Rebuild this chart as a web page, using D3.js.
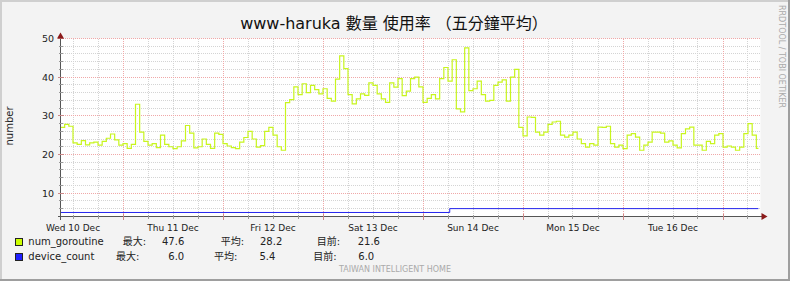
<!DOCTYPE html>
<html>
<head>
<meta charset="utf-8">
<script src="https://cdn.jsdelivr.net/npm/d3@7"></script>
<style>
  body { margin: 0; background: #f3f3f3; }
  svg { display: block; }
  text { font-family: "DejaVu Sans", "Noto Sans CJK TC", sans-serif; }
</style>
</head>
<body>
<svg id="chart" width="790" height="281"></svg>
<script>
const chartTitle = 'www-haruka 數量 使用率 （五分鐘平均）';
const yLabel = 'number';
const viewStart = '2025-12-09T21:00';
const viewEnd = '2025-12-16T21:00';

// num_goroutine, one reading per hour from viewStart
const goroutineValues = [
  27.0, 27.8, 27.3, 23.0, 22.6, 23.6, 22.5, 23.0, 23.2, 22.4, 23.4, 24.2, 25.3, 23.8, 22.4, 22.8,
  21.6, 22.6, 33.0, 25.8, 23.4, 22.4, 22.8, 21.8, 25.0, 22.6, 22.0, 21.5, 22.0,
  23.5, 27.5, 25.5, 21.7, 22.0, 24.0, 22.6, 21.6, 25.5, 25.2, 22.8, 22.2, 21.8, 21.5, 23.2, 24.4,
  26.0, 24.0, 21.9, 22.3, 26.0, 27.0, 25.0, 22.0, 21.1, 33.4, 34.2, 37.5,
  35.5, 38.3, 36.0, 37.9, 36.8, 35.7, 37.0, 34.5, 33.8, 39.5, 45.5, 42.2, 35.5, 33.1, 34.4, 35.7,
  35.3, 38.5, 37.9, 35.7, 34.4, 33.5, 38.5, 37.4, 39.6, 35.2, 36.4, 39.6,
  40.0, 37.5, 33.5, 34.5, 35.5, 34.4, 39.6, 42.5, 39.0, 44.5, 31.8, 31.0, 47.6, 36.5, 37.0, 39.0,
  35.5, 33.8, 34.0, 37.9, 38.7, 39.3, 33.8, 40.0, 42.0, 27.0, 24.8, 29.7, 29.6,
  25.8, 25.0, 25.8, 27.8, 28.4, 28.6, 25.0, 24.5, 25.0, 25.8, 24.0, 22.8, 21.9, 22.8, 22.4, 27.1,
  27.0, 27.3, 22.8, 21.9, 22.4, 21.5, 25.0, 25.4, 24.5, 21.1, 22.4, 23.2,
  25.8, 25.8, 25.5, 23.2, 23.5, 22.4, 21.7, 25.4, 26.6, 27.1, 22.4, 22.4, 21.1, 23.4, 22.8, 25.0,
  25.4, 21.9, 22.2, 21.9, 21.1, 21.9, 25.4, 28.0, 25.0, 21.6
];
const goroutineEnd = '2025-12-16T20:30';

const deviceTimes = ['2025-12-09T21:00', '2025-12-13T18:25', '2025-12-16T20:30'];
const deviceValues = [5, 6, 6];

const yTicks = [10, 20, 30, 40, 50];
const legendNames = ['num_goroutine', 'device_count'];
const legendColors = ['#ccff00', '#2020ff'];
const legendMax = ['47.6', '6.0'];
const legendAvg = ['28.2', '5.4'];
const legendNow = ['21.6', '6.0'];

(() => {
  const parse = d3.timeParse('%Y-%m-%dT%H:%M');
  const t0 = parse(viewStart);
  const t1 = parse(viewEnd);
  const goroutine = goroutineValues.map((v, i) => ({ t: d3.timeHour.offset(t0, i), v }));
  goroutine.push({ t: parse(goroutineEnd), v: goroutineValues[goroutineValues.length - 1] });
  const device = deviceTimes.map((t, i) => ({ t: parse(t), v: deviceValues[i] }));

  const svg = d3.select('#chart');
  const W = 790, H = 281;
  const pLeft = 60.5, pRight = 760.5, pTop = 38.5, pBottom = 216.5;

  const x = d3.scaleTime().domain([t0, t1]).range([pLeft, pRight]);
  const y = d3.scaleLinear().domain([3.96, 50]).range([pBottom, pTop]);
  const px = v => Math.round(v - 0.5) + 0.5;

  // frame
  svg.append('rect').attr('width', W).attr('height', H).attr('fill', '#f3f3f3');
  svg.append('path').attr('d', `M1,${H} V1 H${W}`).attr('stroke', '#cfcfcf').attr('stroke-width', 2).attr('fill', 'none');
  svg.append('path').attr('d', `M0,${H - 1} H${W - 1} V0`).attr('stroke', '#9e9e9e').attr('stroke-width', 2).attr('fill', 'none');
  svg.append('rect').attr('x', pLeft).attr('y', pTop).attr('width', pRight - pLeft).attr('height', pBottom - pTop).attr('fill', '#fff');

  const grid = svg.append('g').attr('shape-rendering', 'crispEdges').attr('stroke-dasharray', '1,1');
  const minorY = d3.range(6, 50, 2).filter(v => v % 10 !== 0);
  const hours6 = d3.timeHour.every(6).range(t0, t1).filter(d => d > t0);
  const minorX = hours6.filter(d => d.getHours() !== 12);
  const noons = hours6.filter(d => d.getHours() === 12);

  grid.selectAll('.my').data(minorY).join('line')
    .attr('x1', pLeft).attr('x2', pRight).attr('y1', d => px(y(d))).attr('y2', d => px(y(d)))
    .attr('stroke', '#d4d4d4');
  grid.selectAll('.mx').data(minorX).join('line')
    .attr('y1', pTop).attr('y2', pBottom).attr('x1', d => px(x(d))).attr('x2', d => px(x(d)))
    .attr('stroke', '#d4d4d4');
  grid.selectAll('.My').data(yTicks).join('line')
    .attr('x1', pLeft).attr('x2', pRight).attr('y1', d => px(y(d))).attr('y2', d => px(y(d)))
    .attr('stroke', '#f0a8a8');
  grid.selectAll('.Mx').data(noons).join('line')
    .attr('y1', pTop).attr('y2', pBottom).attr('x1', d => px(x(d))).attr('x2', d => px(x(d)))
    .attr('stroke', '#f0a8a8');

  // series
  const line = d3.line().x(d => x(d.t)).y(d => y(d.v)).curve(d3.curveStepAfter);
  svg.append('path').datum(goroutine).attr('d', line).attr('fill', 'none')
    .attr('stroke', '#c8f51e').attr('stroke-width', 1.2);
  svg.append('path').datum(device).attr('d', line).attr('fill', 'none')
    .attr('stroke', '#2424ee').attr('stroke-width', 1);

  // axes
  const axes = svg.append('g').attr('shape-rendering', 'crispEdges');
  axes.append('line').attr('x1', pLeft).attr('x2', pLeft).attr('y1', pTop - 4).attr('y2', pBottom + 3).attr('stroke', '#555');
  axes.append('line').attr('x1', pLeft - 3).attr('x2', pRight + 2).attr('y1', pBottom).attr('y2', pBottom).attr('stroke', '#555');
  axes.selectAll('.ty').data(minorY).join('line')
    .attr('x1', pLeft - 2).attr('x2', pLeft + 2).attr('y1', d => px(y(d))).attr('y2', d => px(y(d))).attr('stroke', '#999');
  axes.selectAll('.tY').data(yTicks).join('line')
    .attr('x1', pLeft - 3).attr('x2', pLeft + 3).attr('y1', d => px(y(d))).attr('y2', d => px(y(d))).attr('stroke', '#c88');
  axes.selectAll('.tx').data(minorX).join('line')
    .attr('y1', pBottom - 2).attr('y2', pBottom + 2).attr('x1', d => px(x(d))).attr('x2', d => px(x(d))).attr('stroke', '#999');
  axes.selectAll('.tX').data(noons).join('line')
    .attr('y1', pBottom - 3).attr('y2', pBottom + 3).attr('x1', d => px(x(d))).attr('x2', d => px(x(d))).attr('stroke', '#c88');
  svg.append('path').attr('d', `M${pLeft - 3.5},${pTop} L${pLeft},${pTop - 6} L${pLeft + 3.5},${pTop} Z`).attr('fill', '#8b1a1a');
  svg.append('path').attr('d', `M${pRight + 1},${pBottom - 3.5} L${pRight + 7},${pBottom} L${pRight + 1},${pBottom + 3.5} Z`).attr('fill', '#8b1a1a');

  // tick labels
  svg.append('g').selectAll('text').data(yTicks).join('text')
    .attr('x', 54).attr('y', d => y(d) + 3.5).attr('text-anchor', 'end')
    .attr('font-size', 9.5).attr('fill', '#222').text(d => d);
  const days = d3.timeDay.range(d3.timeDay.ceil(t0), t1);
  svg.append('g').selectAll('text').data(days).join('text')
    .attr('x', d => x(d)).attr('y', 231).attr('text-anchor', 'middle')
    .attr('font-size', 9).attr('fill', '#222').text(d3.timeFormat('%a %d %b'));

  // titles
  svg.append('text').attr('x', 394).attr('y', 29).attr('text-anchor', 'middle')
    .attr('font-size', 16).attr('fill', '#111').text(chartTitle);
  svg.append('text').attr('transform', 'translate(13,126) rotate(-90)').attr('text-anchor', 'middle')
    .attr('font-size', 10).attr('fill', '#222').text(yLabel);
  svg.append('text').attr('transform', 'translate(779,56.5) rotate(90)').attr('text-anchor', 'middle')
    .attr('font-size', 8).attr('fill', '#aaa').text('RRDTOOL / TOBI OETIKER');
  svg.append('text').attr('x', 395).attr('y', 272).attr('text-anchor', 'middle')
    .attr('font-size', 8).attr('fill', '#aaa').text('TAIWAN INTELLIGENT HOME');

  // legend
  const legendX = [[122.7, 162, 220.7, 260, 316.7, 357.7], [116, 168.3, 214, 259.5, 313.3, 358.3]];
  legendNames.forEach((name, i) => {
    const row = svg.append('g').attr('transform', `translate(0,${245 + i * 14.5})`);
    row.append('rect').attr('x', 15.5).attr('y', -6.5).attr('width', 7).attr('height', 7)
      .attr('fill', legendColors[i]).attr('stroke', '#222').attr('shape-rendering', 'crispEdges');
    const cells = [name, '最大:', legendMax[i], '平均:', legendAvg[i], '目前:', legendNow[i]];
    const xs = [28.3, ...legendX[i]];
    row.selectAll('text').data(cells).join('text')
      .attr('x', (d, j) => xs[j]).attr('y', 0)
      .attr('font-family', '"DejaVu Sans Mono", "Noto Sans CJK TC", monospace')
      .attr('font-size', 10).attr('fill', '#222').text(d => d);
  });
})();
</script>
</body>
</html>
